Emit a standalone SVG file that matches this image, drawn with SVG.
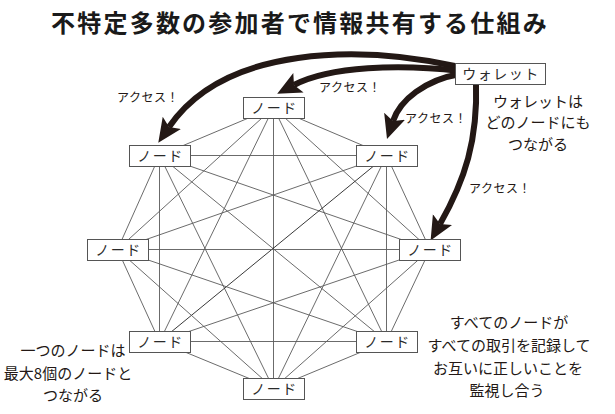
<svg xmlns="http://www.w3.org/2000/svg" width="615" height="414" viewBox="0 0 615 414">
<style>
.title{font-family:"Noto Sans CJK JP","Noto Sans",sans-serif;font-size:24px;font-weight:bold;fill:#1a1a1a;letter-spacing:2.2px}
.lbl{font-family:"Noto Sans CJK JP","Noto Sans",sans-serif;font-size:15px;fill:#231815}
.acc{font-family:"Noto Sans CJK JP","Noto Sans",sans-serif;font-size:12px;fill:#231815;letter-spacing:0.5px}
.box{fill:#fff;stroke:#555;stroke-width:1}
.nt{font-family:"Noto Sans CJK JP","Noto Sans",sans-serif;font-size:14px;fill:#2a2a2a;letter-spacing:1.5px}
.edge{stroke:#5a5a5a;stroke-width:0.9;fill:none}
.arc{stroke:#231815;stroke-width:6;fill:none;marker-end:url(#ah)}
</style>
<defs>
<marker id="ah" markerUnits="userSpaceOnUse" markerWidth="28" markerHeight="26" viewBox="0 -13 28 26" refX="5" refY="0" orient="auto">
<path d="M0,-11 L24,0 L0,11 L5,0 z" fill="#231815"/>
</marker>
</defs>
<rect width="615" height="414" fill="#fff"/>
<text class="title" x="300" y="32" text-anchor="middle">不特定多数の参加者で情報共有する仕組み</text>

<g id="connectors">
<line class="edge" x1="273.5" y1="107.5" x2="159.5" y2="155.5"/>
<line class="edge" x1="273.5" y1="107.5" x2="386.5" y2="155.5"/>
<line class="edge" x1="273.5" y1="107.5" x2="117.5" y2="249.5"/>
<line class="edge" x1="273.5" y1="107.5" x2="430" y2="249.5"/>
<line class="edge" x1="273.5" y1="107.5" x2="159.5" y2="341.5"/>
<line class="edge" x1="273.5" y1="107.5" x2="386.5" y2="341.5"/>
<line class="edge" x1="273.5" y1="107.5" x2="273.5" y2="388.5"/>
<line class="edge" x1="159.5" y1="155.5" x2="386.5" y2="155.5"/>
<line class="edge" x1="159.5" y1="155.5" x2="117.5" y2="249.5"/>
<line class="edge" x1="159.5" y1="155.5" x2="430" y2="249.5"/>
<line class="edge" x1="159.5" y1="155.5" x2="159.5" y2="341.5"/>
<line class="edge" x1="159.5" y1="155.5" x2="386.5" y2="341.5"/>
<line class="edge" x1="159.5" y1="155.5" x2="273.5" y2="388.5"/>
<line class="edge" x1="386.5" y1="155.5" x2="117.5" y2="249.5"/>
<line class="edge" x1="386.5" y1="155.5" x2="430" y2="249.5"/>
<line class="edge" x1="386.5" y1="155.5" x2="159.5" y2="341.5" style="stroke:#222"/>
<line class="edge" x1="386.5" y1="155.5" x2="386.5" y2="341.5"/>
<line class="edge" x1="386.5" y1="155.5" x2="273.5" y2="388.5"/>
<line class="edge" x1="117.5" y1="249.5" x2="430" y2="249.5"/>
<line class="edge" x1="117.5" y1="249.5" x2="159.5" y2="341.5"/>
<line class="edge" x1="117.5" y1="249.5" x2="386.5" y2="341.5"/>
<line class="edge" x1="117.5" y1="249.5" x2="273.5" y2="388.5"/>
<line class="edge" x1="430" y1="249.5" x2="159.5" y2="341.5"/>
<line class="edge" x1="430" y1="249.5" x2="386.5" y2="341.5"/>
<line class="edge" x1="430" y1="249.5" x2="273.5" y2="388.5"/>
<line class="edge" x1="159.5" y1="341.5" x2="386.5" y2="341.5"/>
<line class="edge" x1="159.5" y1="341.5" x2="273.5" y2="388.5"/>
<line class="edge" x1="386.5" y1="341.5" x2="273.5" y2="388.5"/>
<path class="arc" d="M460,67 C360,45 225,45 169,127"/>
<path class="arc" d="M460,71 C400,64 330,66 294,85"/>
<path class="arc" d="M460,74 C425,80 400,100 393,121"/>
<path class="arc" d="M476,82 C478,140 465,180 440,224"/>
</g>

<g id="wallet"><rect class="box" x="455.5" y="63.5" width="90" height="21"/><text class="nt" x="501" y="79" text-anchor="middle">ウォレット</text></g>
<g id="node-top"><rect class="box" x="243.5" y="97.5" width="61" height="21"/><text class="nt" x="274.5" y="113" text-anchor="middle">ノード</text></g>
<g id="node-ul"><rect class="box" x="129.5" y="145.5" width="61" height="21"/><text class="nt" x="160.5" y="161" text-anchor="middle">ノード</text></g>
<g id="node-ur"><rect class="box" x="356.5" y="145.5" width="61" height="21"/><text class="nt" x="387.5" y="161" text-anchor="middle">ノード</text></g>
<g id="node-l"><rect class="box" x="87.5" y="239.5" width="61" height="21"/><text class="nt" x="118.5" y="255" text-anchor="middle">ノード</text></g>
<g id="node-r"><rect class="box" x="399.5" y="239.5" width="61" height="21"/><text class="nt" x="430.5" y="255" text-anchor="middle">ノード</text></g>
<g id="node-ll"><rect class="box" x="129.5" y="331.5" width="61" height="21"/><text class="nt" x="160.5" y="347" text-anchor="middle">ノード</text></g>
<g id="node-lr"><rect class="box" x="356.5" y="331.5" width="61" height="21"/><text class="nt" x="387.5" y="347" text-anchor="middle">ノード</text></g>
<g id="node-b"><rect class="box" x="243.5" y="378.5" width="61" height="21"/><text class="nt" x="274.5" y="394" text-anchor="middle">ノード</text></g>

<g id="labels">
<text class="acc" x="148" y="102" text-anchor="middle">アクセス！</text>
<text class="acc" x="350" y="92" text-anchor="middle">アクセス！</text>
<text class="acc" x="436" y="123" text-anchor="middle">アクセス！</text>
<text class="acc" x="500" y="193" text-anchor="middle">アクセス！</text>
<text class="lbl" x="538" y="107" text-anchor="middle">ウォレットは</text>
<text class="lbl" x="538" y="128" text-anchor="middle">どのノードにも</text>
<text class="lbl" x="538" y="150" text-anchor="middle">つながる</text>
<text class="lbl" x="509" y="328" text-anchor="middle">すべてのノードが</text>
<text class="lbl" x="509" y="351" text-anchor="middle">すべての取引を記録して</text>
<text class="lbl" x="508" y="374" text-anchor="middle">お互いに正しいことを</text>
<text class="lbl" x="507" y="396" text-anchor="middle">監視し合う</text>
<text class="lbl" x="73" y="356" text-anchor="middle">一つのノードは</text>
<text class="lbl" x="68" y="379" text-anchor="middle">最大8個のノードと</text>
<text class="lbl" x="73" y="401" text-anchor="middle">つながる</text>
</g>
</svg>
